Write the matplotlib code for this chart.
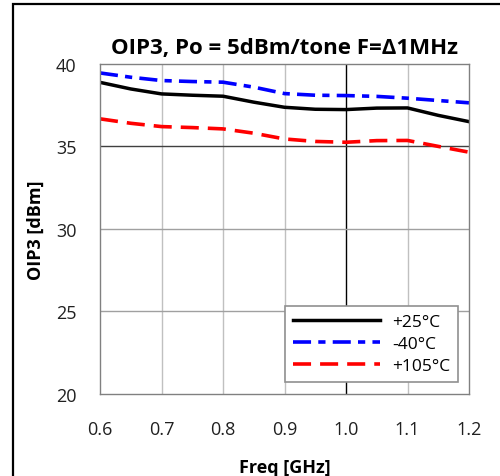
import matplotlib.pyplot as plt
from matplotlib.patches import Rectangle
import numpy as np

freq = [0.6, 0.65, 0.7, 0.75, 0.8, 0.85, 0.9, 0.95, 1.0, 1.05, 1.1, 1.15, 1.2]
oip3_25 = [38.88, 38.48, 38.18, 38.10, 38.04, 37.68, 37.37, 37.25, 37.23, 37.32, 37.33, 36.88, 36.5]
oip3_m40 = [39.45, 39.19, 38.99, 38.93, 38.89, 38.59, 38.2, 38.1, 38.08, 38.03, 37.92, 37.78, 37.64]
oip3_105 = [36.67, 36.4, 36.2, 36.14, 36.06, 35.8, 35.45, 35.3, 35.25, 35.35, 35.36, 35.0, 34.65]
labels = ['+25°C', '-40°C', '+105°C']

plt.rcParams['font.family'] = ['Open Sans', 'DejaVu Sans']

fig = plt.figure(figsize=(5, 4.77), dpi=100)
ax = fig.add_axes([0.2, 0.172, 0.738, 0.692])

# outer frame (runs off the right and bottom edges like the original)
fig.patches.append(Rectangle((13 / 500, -0.1), 1.2, 1 - 5 / 477 + 0.1,
                             transform=fig.transFigure, fill=False,
                             ec='black', lw=1.6))

ax.plot(freq, oip3_25, color='black', lw=2.5, label=labels[0])
ax.plot(freq, oip3_m40, color='#0000ff', lw=2.6, dashes=(5, 2, 2, 2), label=labels[1])
ax.plot(freq, oip3_105, color='#ff0000', lw=2.6, dashes=(5, 2.5), label=labels[2])

ax.set_xlim(0.6, 1.2)
ax.set_ylim(20, 40)
ax.set_xticks(np.arange(0.6, 1.21, 0.1))
ax.set_xticklabels(['0.6', '0.7', '0.8', '0.9', '1.0', '1.1', '1.2'])
ax.set_yticks([20, 25, 30, 35, 40])

for x in [0.7, 0.8, 0.9, 1.1]:
    ax.axvline(x, color='#c0c0c0', lw=1, zorder=0)
ax.axvline(1.0, color='black', lw=1, zorder=0)
for y in [25, 30]:
    ax.axhline(y, color='#a0a0a0', lw=1, zorder=0)
ax.axhline(35, color='#404040', lw=1, zorder=0)

for s in ax.spines.values():
    s.set_color('#808080')
    s.set_linewidth(1)
ax.tick_params(length=0, labelsize=13, colors='#202020')
ax.tick_params(axis='x', pad=19)
ax.tick_params(axis='y', pad=17)

ax.set_title('OIP3, Po = 5dBm/tone F=Δ1MHz', fontsize=16, fontweight='bold', pad=8)
ax.set_xlabel('Freq [GHz]', fontsize=13, fontweight='bold', labelpad=14)
ax.set_ylabel('OIP3 [dBm]', fontsize=13, fontweight='bold', labelpad=8)

leg = ax.legend(loc='lower right', bbox_to_anchor=(0.97, 0.036), borderaxespad=0,
                fontsize=12.5, handlelength=5.0, fancybox=False, framealpha=1,
                edgecolor='#909090', borderpad=0.45, labelspacing=0.35, handletextpad=0.7)
leg.get_frame().set_linewidth(1.2)

fig.savefig('out.png', dpi=100)
